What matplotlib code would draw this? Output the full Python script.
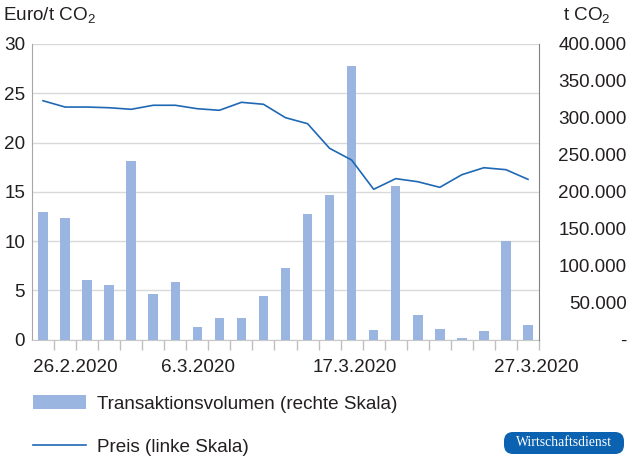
import matplotlib
matplotlib.use("Agg")
import matplotlib.pyplot as plt
from matplotlib.patches import FancyBboxPatch
from matplotlib.transforms import IdentityTransform

plt.rcParams['font.family'] = ['Liberation Sans', 'DejaVu Sans']
plt.rcParams['mathtext.fontset'] = 'custom'
plt.rcParams['mathtext.rm'] = 'Liberation Sans'
plt.rcParams['mathtext.it'] = 'Liberation Sans:italic'

# trading days 26.2.2020 - 27.3.2020
days = ["26.2.", "27.2.", "28.2.", "2.3.", "3.3.", "4.3.", "5.3.", "6.3.",
        "9.3.", "10.3.", "11.3.", "12.3.", "13.3.", "16.3.", "17.3.", "18.3.",
        "19.3.", "20.3.", "23.3.", "24.3.", "25.3.", "26.3.", "27.3."]

volume = [173000, 164000, 80500, 73800, 241000, 62000, 78000, 17300,
          29100, 29100, 58900, 96400, 169500, 195600, 370200, 12900,
          207800, 33200, 14200, 2000, 11100, 133300, 19600]

price = [24.24, 23.6, 23.6, 23.53, 23.37, 23.78, 23.78, 23.43,
         23.27, 24.08, 23.88, 22.52, 21.91, 19.41, 18.22, 15.25,
         16.33, 16.02, 15.45, 16.73, 17.44, 17.24, 16.26]

date_labels = ["26.2.2020", "6.3.2020", "17.3.2020", "27.3.2020"]
date_label_pos = [1.45, 7.05, 14.14, 22.36]

left_ticks = [0, 5, 10, 15, 20, 25, 30]
right_ticks = [0, 50000, 100000, 150000, 200000, 250000, 300000, 350000, 400000]
right_labels = ["-", "50.000", "100.000", "150.000", "200.000",
                "250.000", "300.000", "350.000", "400.000"]

bar_color = "#99b5e0"
line_color = "#1f68b5"
text_color = "#231f20"
fs = 13.6

fig = plt.figure(figsize=(6.3, 4.66), dpi=100)
ax = fig.add_axes([32/630, 1-339.5/466, 507/630, 295.5/466])
ax2 = ax.twinx()

x = list(range(len(days)))

bars = ax2.bar(x, volume, width=0.43, color=bar_color, zorder=2,
               label="Transaktionsvolumen (rechte Skala)")
line, = ax2.plot(x, price, color=line_color, lw=1.2, zorder=3,
                 transform=ax.transData, label="Preis (linke Skala)")

ax.set_xlim(-0.5, len(days) - 0.5)
ax.set_ylim(0, 30)
ax2.set_ylim(0, 400000)

ax.set_yticks(left_ticks)
ax.yaxis.grid(True, color="#d9d9d9", lw=1)
ax.tick_params(axis='y', length=0, pad=5, labelsize=fs, labelcolor=text_color)

ax2.set_yticks(right_ticks, right_labels, ha='right')
ax2.tick_params(axis='y', length=0, pad=63, labelsize=fs, labelcolor=text_color)

ax.set_xticks(date_label_pos, date_labels)
ax.set_xticks([i - 0.5 for i in range(1, len(days) + 1)], minor=True)
ax.tick_params(axis='x', which='major', length=0, pad=14, labelsize=fs,
               labelcolor=text_color)
ax.tick_params(axis='x', which='minor', length=7, width=1, color="#c0c0c0")

for s in ['top', 'right']:
    ax.spines[s].set_visible(False)
ax.spines['left'].set_color("#a6a6a6")
ax.spines['bottom'].set_color("#c8c8c8")
for s in ['top', 'left', 'bottom']:
    ax2.spines[s].set_visible(False)
ax2.spines['right'].set_color("#808080")

fig.text(3/630, 1-20/466, "Euro/t CO$_2$", fontsize=fs, color=text_color, va='baseline')
fig.text(563/630, 1-20/466, "t CO$_2$", fontsize=fs, color=text_color, va='baseline')

fig.legend(handles=[bars, line], loc='upper left', bbox_to_anchor=(33/630, 1-395/466),
           frameon=False, fontsize=fs, handlelength=2.8, handleheight=0.75,
           handletextpad=0.6, labelspacing=1.35, borderaxespad=0, borderpad=0,
           labelcolor=text_color)

badge = FancyBboxPatch((504, 466-454), 120, 22, boxstyle="round,pad=0,rounding_size=9",
                       transform=IdentityTransform(), fc="#0b62b0", ec="none")
fig.add_artist(badge)
fig.text(564/630, 1-443/466, "Wirtschaftsdienst", family="Liberation Serif",
         fontsize=9.8, color="white", ha='center', va='center')

fig.savefig("out.png", dpi=100)
